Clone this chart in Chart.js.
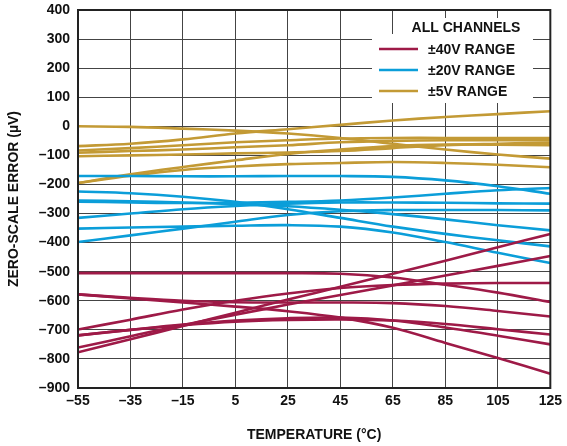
<!DOCTYPE html>
<html>
<head>
<meta charset="utf-8">
<script src="https://cdn.jsdelivr.net/npm/chart.js@4.4.0/dist/chart.umd.min.js"></script>
<style>
  html, body { margin: 0; padding: 0; background: #fff; }
  #wrap { width: 567px; height: 446px; }
</style>
</head>
<body>
<div id="wrap"><canvas id="myChart" width="567" height="446"></canvas></div>
<script>
// temperature points (°C)
var temps = [-55, -35, -15, 5, 25, 45, 65, 85, 105, 125];

// ±40V range, zero-scale error (µV), one row per channel
var range40 = [
  [-505, -505, -505, -505, -505, -507, -520, -545, -572, -604],
  [-777, -732, -687, -641, -596, -552, -507, -462, -416, -370],
  [-761, -722, -683, -648, -613, -580, -547, -513, -480, -446],
  [-699, -665, -630, -600, -575, -556, -546, -541, -539, -539],
  [-578, -590, -600, -605, -606, -606, -608, -618, -635, -654],
  [-578, -592, -606, -620, -636, -658, -693, -745, -797, -851],
  [-719, -700, -684, -672, -666, -664, -668, -680, -698, -716],
  [-719, -700, -682, -668, -660, -658, -668, -692, -720, -750]
];

// ±20V range
var range20 = [
  [-171, -171, -172, -172, -171, -171, -174, -186, -206, -232],
  [-259, -262, -264, -263, -260, -255, -245, -232, -220, -212],
  [-315, -300, -285, -274, -266, -262, -262, -263, -265, -266],
  [-398, -375, -352, -328, -305, -292, -288, -288, -288, -289],
  [-352, -348, -345, -342, -340, -345, -365, -398, -435, -470],
  [-224, -230, -242, -260, -285, -315, -345, -370, -392, -413],
  [-255, -258, -262, -268, -275, -287, -302, -320, -340, -358]
];

// ±5V range
var range5 = [
  [0, -2, -8, -15, -25, -40, -60, -80, -97, -111],
  [-68, -60, -45, -25, -10, 5, 20, 32, 42, 52],
  [-83, -75, -65, -55, -48, -42, -40, -40, -40, -40],
  [-91, -85, -80, -72, -65, -55, -50, -48, -48, -48],
  [-103, -100, -97, -93, -90, -85, -75, -65, -60, -56],
  [-195, -165, -140, -117, -95, -80, -68, -63, -63, -65],
  [-195, -170, -150, -138, -130, -126, -123, -126, -132, -141]
];

var seriesNames = ["\u00B140V RANGE", "\u00B120V RANGE", "\u00B15V RANGE"];
var seriesColors = ["#9e1a47", "#0b9ed9", "#c39a35"];

var FONT = "'Liberation Sans', Arial, sans-serif";

function makeSets(rows, color) {
  return rows.map(function (row) {
    return {
      data: row.map(function (v, i) { return { x: temps[i], y: v }; }),
      borderColor: color,
      borderWidth: 2.6,
      pointRadius: 0,
      tension: 0.35,
      fill: false
    };
  });
}

var datasets = []
  .concat(makeSets(range40, seriesColors[0]))
  .concat(makeSets(range20, seriesColors[1]))
  .concat(makeSets(range5, seriesColors[2]));

function dash(v) {
  return String(v).replace("-", "\u2013");
}

// frame + legend drawn on top
var framePlugin = {
  id: "frame",
  afterDraw: function (chart) {
    var c = chart.ctx, a = chart.chartArea;
    c.save();
    // legend
    c.fillStyle = "#fff";
    c.fillRect(402, 18, 130, 16);
    c.fillRect(372, 34, 161, 69);
    c.fillStyle = "#111";
    c.font = "bold 14px " + FONT;
    c.textAlign = "center";
    c.textBaseline = "middle";
    c.fillText("ALL CHANNELS", 466, 28);
    c.textAlign = "left";
    var ys = [49, 70, 91];
    for (var i = 0; i < 3; i++) {
      c.strokeStyle = seriesColors[i];
      c.lineWidth = 2.6;
      c.beginPath();
      c.moveTo(379, ys[i]);
      c.lineTo(418, ys[i]);
      c.stroke();
      c.fillText(seriesNames[i], 428, ys[i] + 1);
    }
    // frame
    c.strokeStyle = "#222";
    c.lineWidth = 2;
    c.strokeRect(a.left, a.top, a.right - a.left, a.bottom - a.top);
    c.restore();
  }
};

var ctx = document.getElementById("myChart").getContext("2d");
var chart = new Chart(ctx, {
  type: "line",
  data: { datasets: datasets },
  options: {
    responsive: false,
    animation: false,
    layout: { padding: { left: 0, right: 16, top: 10, bottom: 0 } },
    plugins: {
      legend: { display: false },
      tooltip: { enabled: false }
    },
    scales: {
      x: {
        type: "linear",
        min: -55,
        max: 125,
        afterFit: function (s) { s.height = 58; s.paddingTop = 0; },
        ticks: {
          stepSize: 20,
          color: "#111",
          padding: 5,
          maxRotation: 0,
          font: { family: FONT, size: 14, weight: "bold" },
          callback: function (v) { return dash(v); }
        },
        grid: { color: "#444", lineWidth: 1, drawTicks: false },
        border: { display: false },
        title: {
          display: true,
          text: "TEMPERATURE (\u00B0C)",
          color: "#111",
          padding: { top: 12, bottom: 2 },
          font: { family: FONT, size: 14, weight: "bold" }
        }
      },
      y: {
        min: -900,
        max: 400,
        afterFit: function (s) { s.width = 78; s.paddingTop = 0; s.paddingBottom = 0; },
        ticks: {
          stepSize: 100,
          color: "#111",
          padding: 8,
          font: { family: FONT, size: 14, weight: "bold" },
          callback: function (v) { return dash(v); }
        },
        grid: { color: "#444", lineWidth: 1, drawTicks: false },
        border: { display: false },
        title: {
          display: true,
          text: "ZERO-SCALE ERROR (\u00B5V)",
          color: "#111",
          padding: { top: 6, bottom: 0 },
          font: { family: FONT, size: 14, weight: "bold" }
        }
      }
    }
  },
  plugins: [framePlugin]
});
</script>
</body>
</html>
